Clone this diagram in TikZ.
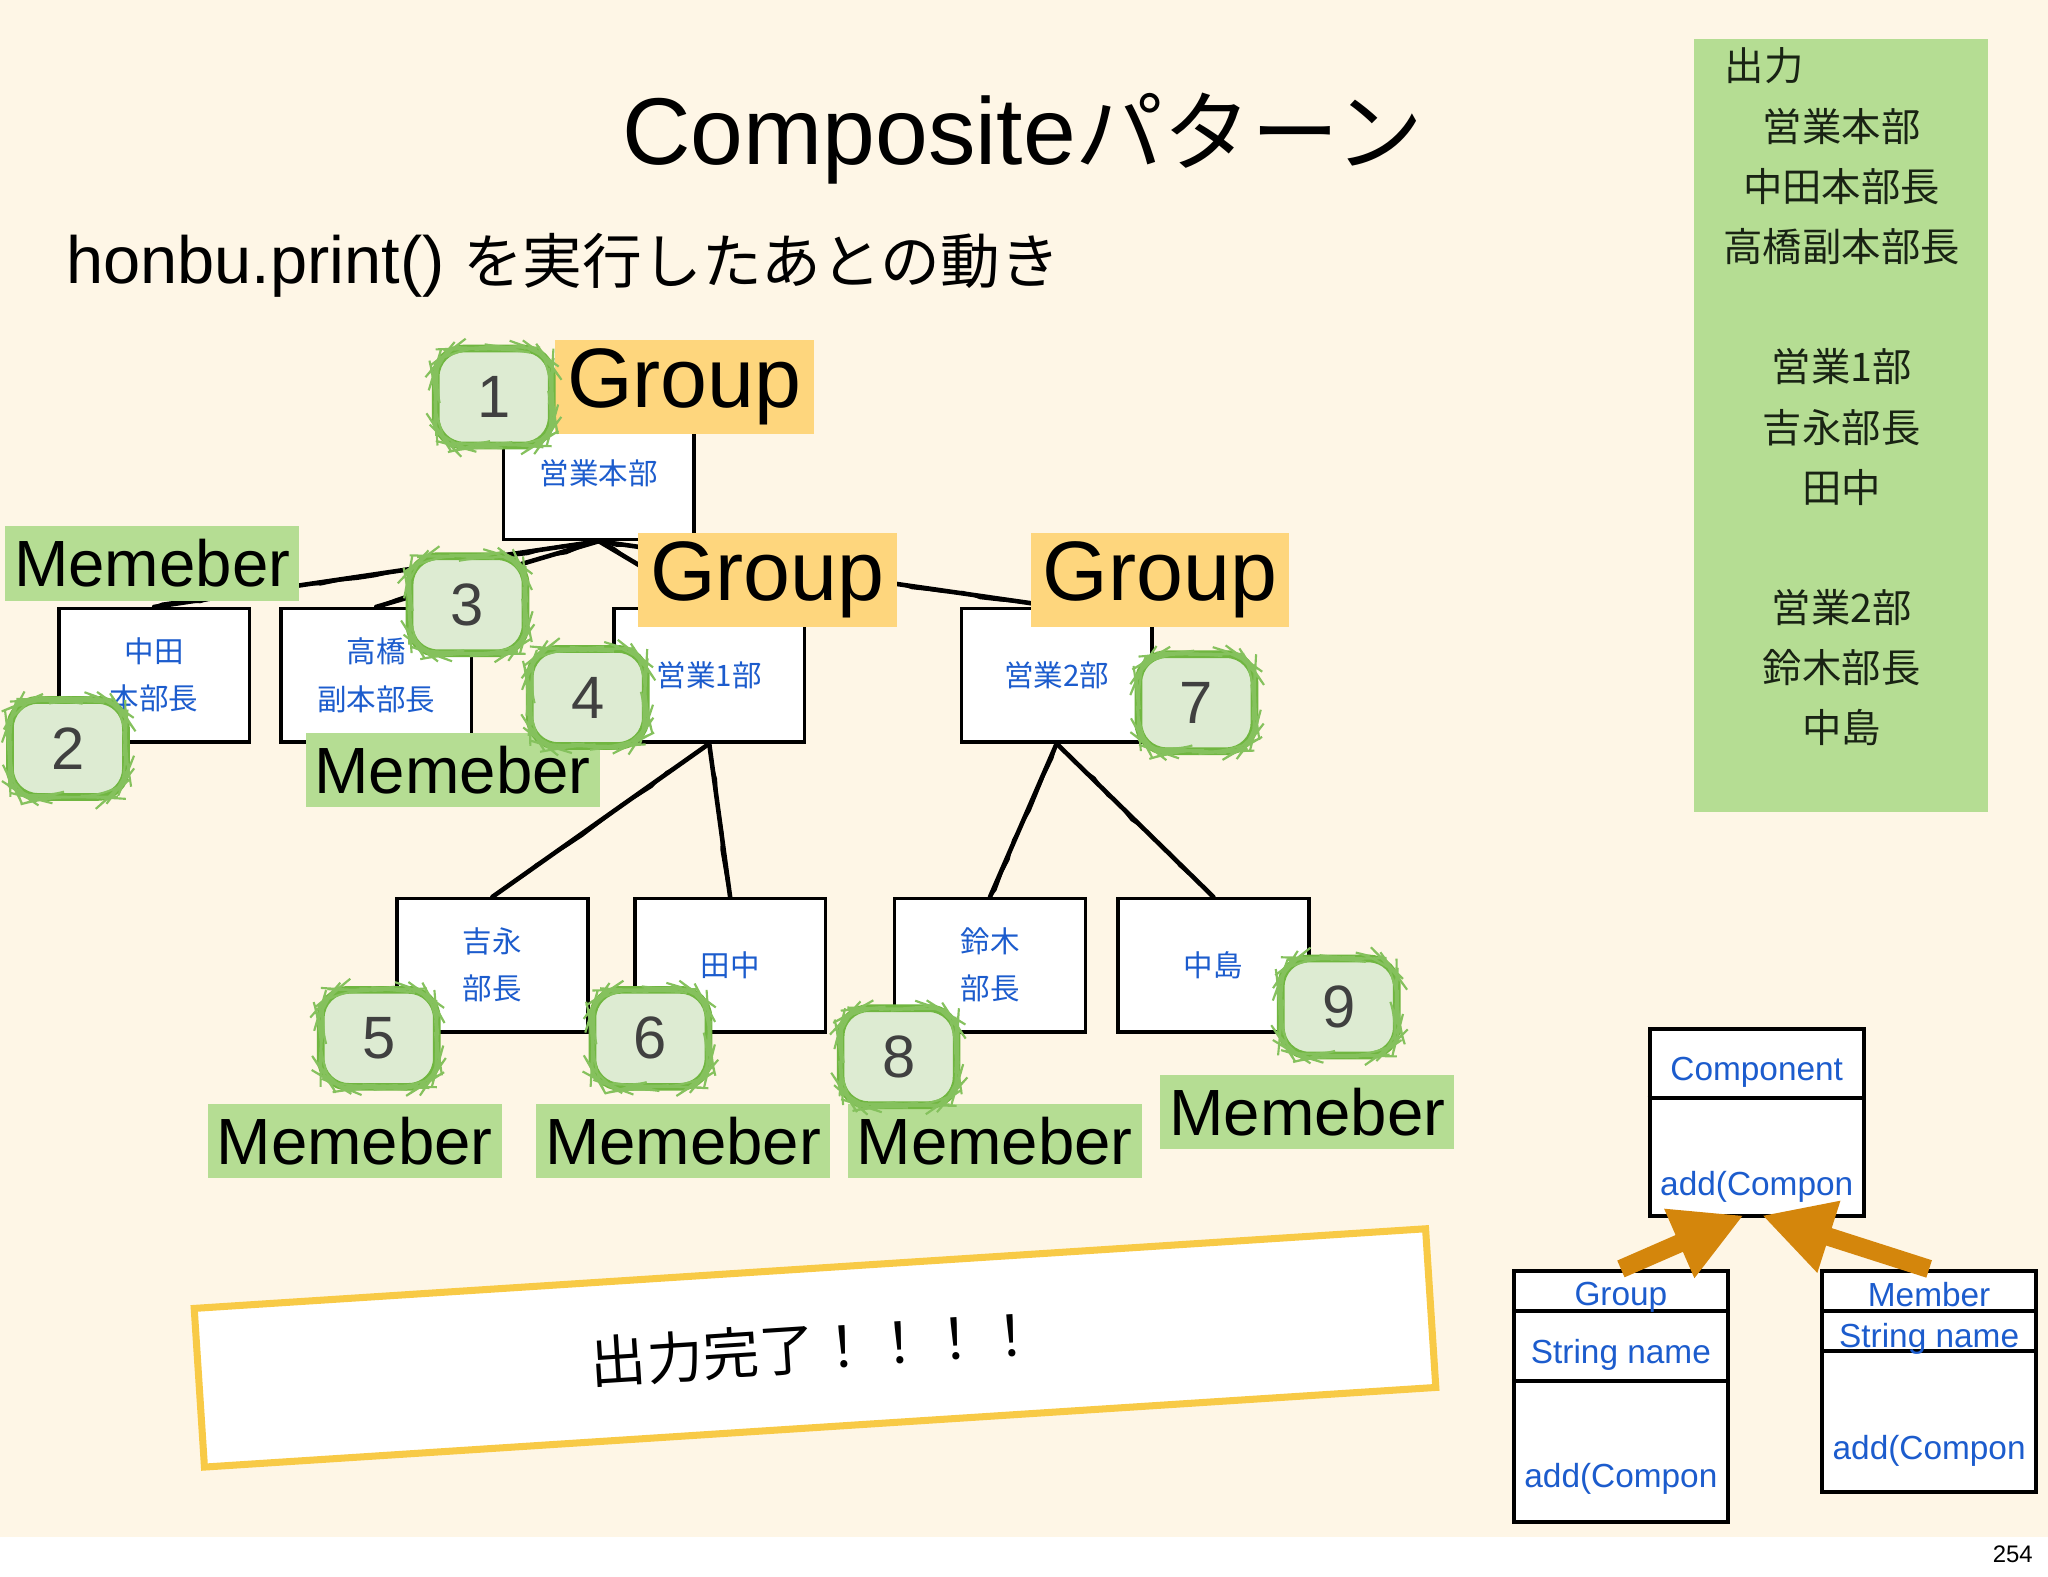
\documentclass[tikz,border=0pt]{standalone}
\usepackage{fontspec}
\setmainfont{Liberation Sans}
\newfontfamily\jp{Noto Sans CJK JP}
\usepackage{xcolor}
\usepackage{tikz}
\usetikzlibrary{arrows.meta,calc,decorations.pathmorphing}

\definecolor{paper}{RGB}{254,246,230}
\definecolor{memgreen}{RGB}{181,221,147}
\definecolor{grpyellow}{RGB}{254,214,125}
\definecolor{badgefill}{RGB}{221,235,210}
\definecolor{badgeline}{RGB}{112,182,64}
\definecolor{badgetext}{RGB}{64,64,64}
\definecolor{nameblue}{RGB}{28,92,205}
\definecolor{doneline}{RGB}{248,202,70}
\definecolor{arroworange}{RGB}{212,134,12}
\definecolor{outtext}{RGB}{25,35,20}

\pgfdeclarelayer{background}
\pgfsetlayers{background,main}

\tikzset{
  treebox/.style={draw, line width=1pt, fill=white, minimum width=1.907cm,
    minimum height=1.332cm, inner sep=0pt, align=center, text=nameblue,
    font=\jp\fontsize{8.4}{13.4}\selectfont},
  grplabel/.style={fill=grpyellow, minimum width=2.586cm, minimum height=0.94cm,
    inner sep=0pt, font=\fontsize{24}{26}\selectfont},
  memlabel/.style={fill=memgreen, minimum width=2.939cm, minimum height=0.744cm,
    inner sep=0pt, font=\fontsize{18.6}{20}\selectfont},
  badge/.style={draw=badgeline, line width=2.2pt, fill=badgefill,
    rounded corners=0.28cm, minimum width=1.16cm, minimum height=0.97cm,
    inner sep=0pt, text=badgetext, font=\fontsize{17}{17}\selectfont,
    postaction={draw=badgeline!85!white, line width=0.6pt, decorate,
      decoration={random steps, segment length=3pt, amplitude=0.3pt}}},
  sketch/.style={line width=1.3pt, line cap=round,
    postaction={draw, line width=0.6pt, decorate,
      decoration={random steps, segment length=5pt, amplitude=0.7pt}}},
  umlbox/.style={draw, line width=1.1pt, fill=white, minimum width=2.142cm,
    inner sep=0pt},
  umltext/.style={text=nameblue, inner sep=0pt, font=\fontsize{9.5}{11}\selectfont},
  genarrow/.style={-{Triangle[length=20pt,width=20pt]}, line width=5.2pt,
    draw=arroworange}
}

\begin{document}
\pgfmathsetseed{7}
\begin{tikzpicture}[x=0.013061cm, y=-0.013061cm]
  \useasboundingbox (0,0) rectangle (1568,1207);

  % Titles
  \node[anchor=base, inner sep=0pt] (title) at (783,126)
    {\fontsize{27}{32}\selectfont Composite{\jp\fontsize{25}{30}\selectfont パターン}};
  \node[anchor=base west, inner sep=0pt] (subtitle) at (50,217)
    {\fontsize{19}{22}\selectfont honbu.print() {\jp\fontsize{17}{22}\selectfont を実行したあとの動き}};

  % Tree boxes
  \node[treebox] (honbu) at (458.5,362) {営業本部};
  \node[treebox] (nakata) at (118,517) {中田\\本部長};
  \node[treebox] (takahashi) at (288,517) {高橋\\副本部長};
  \node[treebox] (eigyo1) at (543,517) {営業1部};
  \node[treebox] (eigyo2) at (809,517) {営業2部};
  \node[treebox] (yoshinaga) at (377,739) {吉永\\部長};
  \node[treebox] (tanaka) at (559,739) {田中};
  \node[treebox] (suzuki) at (758,739) {鈴木\\部長};
  \node[treebox] (nakajima) at (929,739) {中島};

  % Page and connectors (behind the boxes)
  \begin{pgfonlayer}{background}
    \fill[white] (0,0) rectangle (1568,1207);
    \fill[paper] (0,0) rectangle (1568,1177);
    \draw[sketch] (honbu.south) -- (nakata.north);
    \draw[sketch] (honbu.south) -- (takahashi.north);
    \draw[sketch] (honbu.south) -- (eigyo1.north);
    \draw[sketch] (honbu.south) -- (eigyo2.north);
    \draw[sketch] (eigyo1.south) -- (yoshinaga.north);
    \draw[sketch] (eigyo1.south) -- (tanaka.north);
    \draw[sketch] (eigyo2.south) -- (suzuki.north);
    \draw[sketch] (eigyo2.south) -- (nakajima.north);
  \end{pgfonlayer}

  % Kind labels
  \node[grplabel] (grp1) at (524,296) {Group};
  \node[grplabel] (grp2) at (587.5,444) {Group};
  \node[grplabel] (grp3) at (888,444) {Group};
  \node[memlabel] (mem1) at (116.5,431.5) {Memeber};
  \node[memlabel] (mem2) at (346.5,589.5) {Memeber};
  \node[memlabel] (mem3) at (271.5,873.5) {Memeber};
  \node[memlabel] (mem4) at (523,873.5) {Memeber};
  \node[memlabel] (mem5) at (761.5,873.5) {Memeber};
  \node[memlabel] (mem6) at (1001,851.5) {Memeber};

  % Visiting order
  \node[badge] (step1) at (378,304) {1};
  \node[badge] (step2) at (52,573) {2};
  \node[badge] (step3) at (358,463) {3};
  \node[badge] (step4) at (450,534) {4};
  \node[badge] (step5) at (290,795) {5};
  \node[badge] (step6) at (498,795) {6};
  \node[badge] (step7) at (916,538) {7};
  \node[badge] (step8) at (688,809) {8};
  \node[badge] (step9) at (1025,771) {9};

  % Output panel
  \node[fill=memgreen, minimum width=2.939cm, minimum height=7.732cm, inner sep=0pt]
    (outpanel) at (1409.5,326) {};
  \node[anchor=west, inner sep=0pt, text=outtext, font=\jp\fontsize{11.2}{13}\selectfont]
    (outhead) at (1320,50) {出力};
  \node[align=center, inner sep=0pt, text=outtext, font=\jp\fontsize{11.2}{17.1}\selectfont]
    (outlist) at (1410,327)
    {営業本部\\中田本部長\\高橋副本部長\\[17.1pt]営業1部\\吉永部長\\田中\\[17.1pt]営業2部\\鈴木部長\\中島};

  % Finished
  \node[draw=doneline, line width=2pt, fill=white, minimum width=12.34cm,
    minimum height=1.59cm, rotate=3.7, font=\jp\fontsize{16}{18}\selectfont,
    postaction={draw=doneline, line width=0.6pt, decorate,
      decoration={random steps, segment length=4pt, amplitude=0.5pt}}]
    (done) at (624,1032) {出力完了！！！！};

  % Class diagram
  \node[umlbox, minimum height=1.868cm] (comp) at (1345,859.5) {};
  \node[umlbox, minimum height=2.508cm] (umlgroup) at (1241,1069) {};
  \node[umlbox, minimum height=2.207cm] (umlmember) at (1477,1057.5) {};
  \draw[line width=1.1pt] ($(comp.north west)+(0,54)$) -- ($(comp.north east)+(0,54)$);
  \draw[line width=1.1pt] ($(umlgroup.north west)+(0,32)$) -- ($(umlgroup.north east)+(0,32)$);
  \draw[line width=1.1pt] ($(umlgroup.north west)+(0,86)$) -- ($(umlgroup.north east)+(0,86)$);
  \draw[line width=1.1pt] ($(umlmember.north west)+(0,32)$) -- ($(umlmember.north east)+(0,32)$);
  \draw[line width=1.1pt] ($(umlmember.north west)+(0,63)$) -- ($(umlmember.north east)+(0,63)$);
  \node[umltext] (compname) at (1345,821) {Component};
  \node[umltext] (compop) at (1345,909) {add(Compon};
  \node[umltext] (grpname) at (1241,993) {Group};
  \node[umltext] (grpattr) at (1241,1037) {String name};
  \node[umltext] (grpop) at (1241,1132) {add(Compon};
  \node[umltext] (memname) at (1477,991) {Member};
  \node[umltext] (memattr) at (1477,1025) {String name};
  \node[umltext] (memop) at (1477,1111) {add(Compon};
  \draw[genarrow] (umlgroup.north) -- ($(comp.south)+(-10,-2)$);
  \draw[genarrow] (umlmember.north) -- ($(comp.south)+(4,-2)$);

  \node[inner sep=0pt, font=\fontsize{6.8}{8}\selectfont] (pageno) at (1541,1190) {254};
\end{tikzpicture}
\end{document}
